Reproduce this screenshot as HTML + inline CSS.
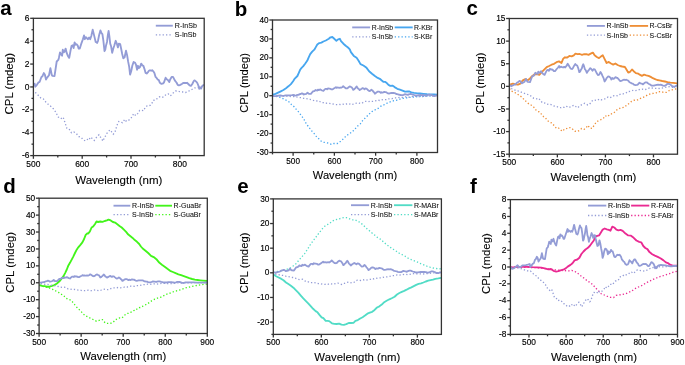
<!DOCTYPE html>
<html><head><meta charset="utf-8"><style>
html,body{margin:0;padding:0;background:#fff;overflow:hidden;}
svg{display:block;will-change:transform;filter:blur(0.3px);}
text{font-family:"Liberation Sans", sans-serif;fill:#000;}
.tk{font-size:8.45px;fill:#000;stroke:#000;stroke-width:0.15px;}
.lb{font-size:11.5px;fill:#000;stroke:#000;stroke-width:0.1px;}
.lt{font-size:20.5px;font-weight:bold;}
.lg{font-size:7.1px;fill:#111;stroke:#111;stroke-width:0.08px;}
.ax{stroke:#333;stroke-width:1.3;}
</style></head><body>
<svg width="685" height="365" viewBox="0 0 685 365">
<g>
<clipPath id="cpa"><rect x="33.40" y="18.30" width="170.80" height="137.30"/></clipPath>
<g clip-path="url(#cpa)">
<polyline points="35.3,92.4 38.6,95.7 41.0,98.2 43.5,99.0 46.0,102.3 48.4,104.4 50.9,106.4 53.4,108.8 55.8,112.1 58.3,117.1 60.8,118.7 63.1,117.1 64.8,122.0 66.8,128.1 68.9,128.6 71.4,132.7 73.8,131.9 76.3,133.5 78.9,136.6 81.3,137.5 83.2,139.9 85.6,140.9 87.5,139.4 88.9,140.1 90.4,137.1 92.3,138.5 94.2,140.4 96.6,137.2 99.0,134.7 100.9,137.8 103.0,141.1 103.8,139.0 105.7,135.6 106.7,133.7 108.4,131.5 110.0,129.9 111.6,131.8 113.2,134.2 114.8,132.7 115.8,129.4 116.7,126.3 117.7,123.6 118.8,121.5 120.5,121.9 122.4,122.7 124.8,119.3 125.7,120.8 127.7,121.2 130.1,119.0 132.0,116.9 133.7,113.6 135.7,115.6 137.7,113.6 139.7,110.4 141.6,110.4 143.6,110.8 145.1,107.7 147.1,105.9 149.0,105.9 150.5,105.2 152.3,102.7 153.5,100.3 155.9,99.8 157.2,98.6 159.4,96.8 161.4,97.6 163.8,96.8 166.3,94.2 168.3,93.9 170.2,95.8 172.2,94.3 173.7,92.4 175.7,91.0 177.8,91.0 180.3,91.9 182.7,92.0 185.4,92.5 187.2,92.0 189.3,90.8 191.4,89.8 194.1,88.0 196.8,87.6 199.3,87.3 201.1,87.0 202.6,85.8" fill="none" stroke="#939cd6" stroke-width="1.3" stroke-dasharray="1.3 2.1"/>
<polyline points="34.4,82.9 35.3,86.7 36.9,84.8 38.6,82.3 39.7,81.8 41.3,77.2 42.4,76.3 43.8,73.0 44.9,74.7 46.0,79.6 47.3,77.4 49.0,75.2 50.4,68.1 51.7,74.7 52.3,75.8 54.5,76.1 56.7,61.5 58.3,59.9 58.9,57.9 60.0,52.4 61.1,54.4 62.1,55.7 62.8,49.7 63.6,52.4 64.5,51.8 65.6,48.6 66.7,52.9 67.8,55.7 69.2,57.9 70.5,50.8 71.6,45.8 72.7,45.3 73.6,48.0 74.6,42.5 75.7,44.7 76.5,44.2 77.6,45.3 78.7,48.6 79.8,48.6 81.5,43.1 82.9,39.2 84.0,35.4 84.7,39.2 85.8,37.1 86.9,38.2 88.0,39.2 89.1,37.6 90.2,39.2 91.3,36.0 92.7,29.6 94.1,35.4 95.7,42.0 96.8,42.5 97.1,43.0 98.0,40.8 99.1,35.3 100.4,30.4 101.5,33.2 102.4,34.2 103.4,40.8 104.5,51.2 105.3,49.6 106.1,45.2 107.0,41.9 107.8,35.3 108.6,31.0 109.4,36.4 110.2,43.6 111.1,46.3 112.2,52.9 113.3,48.5 114.4,45.2 115.7,40.8 116.8,43.6 117.9,47.4 118.9,43.6 120.2,44.1 121.1,48.5 122.2,54.0 123.3,58.4 124.6,57.3 126.0,50.7 127.1,55.1 128.1,61.4 129.2,66.9 130.1,74.6 131.2,71.3 132.3,65.8 133.6,62.0 134.9,62.5 136.0,64.7 137.1,69.7 138.0,65.8 139.0,68.0 140.1,66.9 141.2,63.6 142.3,65.3 143.4,65.8 144.5,69.1 145.6,72.9 146.7,73.5 147.8,72.4 148.9,70.8 150.0,70.2 151.1,70.8 152.2,70.2 153.3,71.3 154.4,72.9 155.5,76.8 156.6,77.9 157.7,79.5 158.8,80.1 159.9,82.8 161.5,83.9 163.2,83.4 164.1,82.1 165.6,77.7 166.7,79.2 167.9,80.1 169.2,82.1 170.3,79.2 171.8,76.8 173.0,76.8 174.2,79.2 175.3,81.1 176.5,82.5 177.7,84.9 178.9,85.4 180.3,84.9 181.8,84.0 183.2,83.0 184.4,82.8 185.6,83.0 187.0,82.8 188.3,84.0 189.6,85.4 190.9,85.9 192.3,84.0 193.7,81.1 194.4,80.4 195.0,80.6 196.2,81.6 197.3,83.0 198.5,85.9 199.2,88.8 200.0,87.3 201.1,88.6 202.0,86.4 202.9,85.5 204.0,84.6" fill="none" stroke="#939cd6" stroke-width="1.85" stroke-linejoin="round"/>
</g>
<line x1="33.40" y1="155.60" x2="33.40" y2="158.80" class="ax"/>
<text x="33.40" y="166.60" class="tk" style="font-size:8.450px" text-anchor="middle">500</text>
<line x1="82.20" y1="155.60" x2="82.20" y2="158.80" class="ax"/>
<text x="82.20" y="166.60" class="tk" style="font-size:8.450px" text-anchor="middle">600</text>
<line x1="131.00" y1="155.60" x2="131.00" y2="158.80" class="ax"/>
<text x="131.00" y="166.60" class="tk" style="font-size:8.450px" text-anchor="middle">700</text>
<line x1="179.80" y1="155.60" x2="179.80" y2="158.80" class="ax"/>
<text x="179.80" y="166.60" class="tk" style="font-size:8.450px" text-anchor="middle">800</text>
<line x1="57.80" y1="155.60" x2="57.80" y2="157.50" class="ax"/>
<line x1="106.60" y1="155.60" x2="106.60" y2="157.50" class="ax"/>
<line x1="155.40" y1="155.60" x2="155.40" y2="157.50" class="ax"/>
<line x1="33.40" y1="155.60" x2="30.20" y2="155.60" class="ax"/>
<text x="29.50" y="158.20" class="tk" style="font-size:8.450px" text-anchor="end">-6</text>
<line x1="33.40" y1="132.72" x2="30.20" y2="132.72" class="ax"/>
<text x="29.50" y="135.32" class="tk" style="font-size:8.450px" text-anchor="end">-4</text>
<line x1="33.40" y1="109.83" x2="30.20" y2="109.83" class="ax"/>
<text x="29.50" y="112.43" class="tk" style="font-size:8.450px" text-anchor="end">-2</text>
<line x1="33.40" y1="86.95" x2="30.20" y2="86.95" class="ax"/>
<text x="29.50" y="89.55" class="tk" style="font-size:8.450px" text-anchor="end">0</text>
<line x1="33.40" y1="64.07" x2="30.20" y2="64.07" class="ax"/>
<text x="29.50" y="66.67" class="tk" style="font-size:8.450px" text-anchor="end">2</text>
<line x1="33.40" y1="41.18" x2="30.20" y2="41.18" class="ax"/>
<text x="29.50" y="43.78" class="tk" style="font-size:8.450px" text-anchor="end">4</text>
<line x1="33.40" y1="18.30" x2="30.20" y2="18.30" class="ax"/>
<text x="29.50" y="20.90" class="tk" style="font-size:8.450px" text-anchor="end">6</text>
<line x1="33.40" y1="144.16" x2="31.50" y2="144.16" class="ax"/>
<line x1="33.40" y1="121.28" x2="31.50" y2="121.28" class="ax"/>
<line x1="33.40" y1="98.39" x2="31.50" y2="98.39" class="ax"/>
<line x1="33.40" y1="75.51" x2="31.50" y2="75.51" class="ax"/>
<line x1="33.40" y1="52.62" x2="31.50" y2="52.62" class="ax"/>
<line x1="33.40" y1="29.74" x2="31.50" y2="29.74" class="ax"/>
<rect x="33.40" y="18.30" width="170.80" height="137.30" class="ax" fill="none"/>
<text x="118.80" y="183.50" class="lb" style="font-size:11.500px" text-anchor="middle">Wavelength (nm)</text>
<text transform="translate(12.50,83.80) rotate(-90)" x="0" y="0" class="lb" style="font-size:11.500px" text-anchor="middle">CPL (mdeg)</text>
<text x="0.30" y="15.00" class="lt">a</text>
<line x1="155.80" y1="25.70" x2="172.80" y2="25.70" stroke="#939cd6" stroke-width="1.85"/>
<line x1="155.80" y1="34.90" x2="172.80" y2="34.90" stroke="#939cd6" stroke-width="1.3" stroke-dasharray="1.3 2.1"/>
<text x="174.80" y="27.90" class="lg" style="font-size:7.100px">R-InSb</text>
<text x="174.80" y="37.30" class="lg" style="font-size:7.100px">S-InSb</text>
</g>
<g>
<clipPath id="cpb"><rect x="272.50" y="20.00" width="165.00" height="132.50"/></clipPath>
<g clip-path="url(#cpb)">
<polyline points="272.6,95.6 273.3,95.8 277.4,96.6 281.5,97.9 285.6,99.9 288.9,101.8 291.4,104.5 293.8,106.4 296.3,109.4 298.8,112.2 301.3,115.5 303.7,118.8 306.2,123.7 308.7,127.0 311.1,130.3 313.6,132.8 316.1,136.1 318.5,138.5 321.0,141.0 323.5,142.3 325.8,142.6 328.3,143.0 331.3,144.3 334.0,143.5 337.3,143.5 340.6,141.3 343.1,139.0 346.4,135.7 349.7,133.6 352.1,131.9 354.6,129.5 357.1,126.5 360.4,123.7 362.8,120.4 366.1,117.1 368.6,114.7 371.1,112.2 373.5,110.6 376.0,109.4 378.5,108.1 380.6,106.4 383.3,105.1 385.9,103.8 388.5,102.4 391.1,101.6 393.8,100.7 396.4,100.3 399.0,99.4 401.6,98.5 405.1,98.1 408.6,97.5 412.2,97.2 415.7,96.8 419.2,96.5 422.7,96.3 426.2,96.1 429.7,95.9 433.2,95.7 437.3,95.4" fill="none" stroke="#47a6ef" stroke-width="1.3" stroke-dasharray="1.3 2.1"/>
<polyline points="272.6,95.2 272.9,94.6 275.5,93.8 278.1,92.6 280.8,91.3 283.4,90.0 286.0,88.2 288.7,86.1 290.9,84.1 293.1,81.2 294.8,78.6 297.4,76.0 298.8,72.9 300.1,69.8 301.8,67.6 303.1,66.4 305.1,63.8 307.2,60.8 308.7,57.3 310.2,54.2 312.2,51.7 314.3,49.7 315.8,47.1 317.3,44.6 319.3,43.1 321.4,42.6 323.4,41.5 325.8,40.5 328.8,38.8 330.5,37.3 332.3,37.0 334.0,38.5 336.4,40.8 338.1,39.4 339.9,38.8 341.0,41.1 343.4,43.7 345.7,45.8 348.0,47.5 349.8,49.3 350.9,52.1 353.8,55.9 356.6,57.8 358.6,60.7 360.5,64.1 363.4,65.5 366.2,67.4 369.1,71.2 372.0,73.7 374.9,76.0 377.7,77.9 379.8,78.8 381.5,80.3 383.3,81.8 385.0,81.8 386.8,83.1 388.5,84.9 390.3,85.8 392.4,85.6 394.6,87.1 397.3,88.8 399.9,89.7 402.5,90.6 405.1,91.7 407.8,91.5 409.5,91.5 411.3,92.3 413.9,92.9 416.5,93.2 420.0,93.5 423.5,93.8 427.0,94.1 430.5,94.3 434.0,94.5 437.3,94.7" fill="none" stroke="#47a6ef" stroke-width="1.85" stroke-linejoin="round"/>
<polyline points="272.6,95.8 276.5,95.8 280.9,95.9 284.3,96.1 288.8,96.4 292.6,96.7 294.7,96.6 297.5,97.2 299.5,97.6 301.6,97.7 303.8,98.3 305.8,98.6 307.9,98.9 310.0,99.3 312.0,99.9 314.1,100.7 316.2,101.0 318.3,100.7 319.7,101.5 321.4,102.5 323.2,102.6 325.3,103.3 327.3,103.2 329.4,103.4 331.6,103.9 333.6,104.1 335.2,104.5 337.3,104.6 338.9,104.4 340.0,104.5 341.3,104.0 342.9,104.2 344.5,104.6 346.5,104.0 348.6,103.6 350.2,104.1 351.9,104.7 352.6,104.3 354.2,103.8 355.1,103.4 356.5,103.1 357.8,102.8 359.2,103.1 360.5,103.5 361.9,103.3 362.7,102.7 363.5,102.2 364.3,101.8 365.4,101.4 366.8,101.5 368.4,101.6 370.4,101.1 371.2,101.3 372.9,101.4 374.9,101.0 376.5,100.7 377.9,100.1 379.6,100.5 381.3,100.1 383.0,99.6 384.6,99.6 386.3,99.7 387.5,99.1 389.2,98.8 390.8,98.8 392.1,98.7 393.6,98.3 394.6,97.9 396.7,97.8 397.8,97.6 399.6,97.3 401.3,97.5 403.3,97.3 405.4,96.9 407.1,96.9 408.7,97.2 410.4,96.9 411.7,96.6 413.5,96.4 415.2,96.4 417.3,96.5 419.4,96.5 421.6,96.6 423.2,96.5 424.9,96.4 426.7,96.2 429.0,95.9 431.3,95.8 433.4,95.8 434.9,95.7 436.1,95.5" fill="none" stroke="#939cd6" stroke-width="1.3" stroke-dasharray="1.3 2.1"/>
<polyline points="272.6,95.8 274.4,96.1 276.7,96.0 278.6,95.6 280.5,95.3 282.3,95.8 284.3,95.6 285.8,95.3 287.8,95.3 289.6,95.3 291.9,95.2 294.0,95.0 294.7,95.7 296.1,95.4 297.5,94.9 298.4,94.9 299.8,94.1 300.7,94.0 301.9,93.4 302.8,93.7 303.8,94.5 304.9,94.1 306.3,93.8 307.5,92.6 308.6,93.7 309.1,93.9 310.9,93.9 312.8,91.5 314.1,91.2 314.6,90.9 315.6,90.0 316.5,90.3 317.4,90.5 318.0,89.6 318.7,90.0 319.5,89.9 320.4,89.4 321.3,90.1 322.2,90.5 323.4,90.9 324.5,89.7 325.4,88.9 326.4,88.8 327.1,89.3 328.0,88.4 328.9,88.7 329.6,88.6 330.5,88.8 331.4,89.4 332.4,89.4 333.8,88.5 335.0,87.8 335.9,87.2 336.5,87.8 337.4,87.5 338.4,87.6 339.3,87.8 340.2,87.5 341.1,87.8 342.1,87.3 343.2,86.2 344.4,87.2 345.8,88.3 346.7,88.4 347.0,88.4 347.7,88.1 348.6,87.2 349.7,86.4 350.7,86.8 351.4,87.0 352.3,88.1 353.2,89.8 353.9,89.5 354.6,88.8 355.3,88.3 356.0,87.2 356.7,86.5 357.3,87.4 358.0,88.5 358.8,89.0 359.7,90.1 360.6,89.4 361.6,88.8 362.7,88.1 363.6,88.5 364.5,89.2 365.4,88.5 366.5,88.6 367.3,89.4 368.2,90.3 369.2,91.0 370.2,90.8 371.4,89.7 372.4,90.4 373.2,91.5 374.1,92.4 374.9,93.7 375.8,93.1 376.7,92.2 377.8,91.6 378.9,91.7 379.9,92.0 380.8,92.9 381.6,92.2 382.4,92.6 383.3,92.4 384.3,91.9 385.2,92.1 386.1,92.2 387.0,92.8 388.0,93.4 388.9,93.5 389.8,93.3 390.8,93.0 391.7,92.9 392.6,93.0 393.5,92.9 394.5,93.1 395.4,93.4 396.3,94.0 397.2,94.2 398.2,94.5 399.1,94.6 400.0,95.0 401.4,95.2 402.8,95.1 403.6,94.9 404.8,94.2 405.8,94.4 406.8,94.6 407.9,94.9 408.8,94.4 410.1,94.0 411.1,94.0 412.1,94.4 413.0,94.7 414.1,95.0 415.1,95.4 416.2,95.5 417.3,95.4 418.6,95.2 419.8,95.1 420.8,95.0 421.8,95.1 423.0,95.0 424.1,95.2 425.2,95.5 426.3,95.5 427.5,95.2 428.6,94.7 429.2,94.6 429.7,94.7 430.7,94.8 431.7,95.1 432.7,95.5 433.3,96.0 434.0,95.8 434.9,96.0 435.6,95.6 436.4,95.5 437.4,95.3" fill="none" stroke="#939cd6" stroke-width="1.8" stroke-linejoin="round"/>
</g>
<line x1="293.12" y1="152.50" x2="293.12" y2="155.70" class="ax"/>
<text x="293.12" y="163.50" class="tk" style="font-size:8.196px" text-anchor="middle">500</text>
<line x1="334.38" y1="152.50" x2="334.38" y2="155.70" class="ax"/>
<text x="334.38" y="163.50" class="tk" style="font-size:8.196px" text-anchor="middle">600</text>
<line x1="375.62" y1="152.50" x2="375.62" y2="155.70" class="ax"/>
<text x="375.62" y="163.50" class="tk" style="font-size:8.196px" text-anchor="middle">700</text>
<line x1="416.88" y1="152.50" x2="416.88" y2="155.70" class="ax"/>
<text x="416.88" y="163.50" class="tk" style="font-size:8.196px" text-anchor="middle">800</text>
<line x1="272.50" y1="152.50" x2="272.50" y2="154.40" class="ax"/>
<line x1="313.75" y1="152.50" x2="313.75" y2="154.40" class="ax"/>
<line x1="355.00" y1="152.50" x2="355.00" y2="154.40" class="ax"/>
<line x1="396.25" y1="152.50" x2="396.25" y2="154.40" class="ax"/>
<line x1="272.50" y1="152.50" x2="269.30" y2="152.50" class="ax"/>
<text x="268.60" y="155.10" class="tk" style="font-size:8.196px" text-anchor="end">-30</text>
<line x1="272.50" y1="133.57" x2="269.30" y2="133.57" class="ax"/>
<text x="268.60" y="136.17" class="tk" style="font-size:8.196px" text-anchor="end">-20</text>
<line x1="272.50" y1="114.64" x2="269.30" y2="114.64" class="ax"/>
<text x="268.60" y="117.24" class="tk" style="font-size:8.196px" text-anchor="end">-10</text>
<line x1="272.50" y1="95.71" x2="269.30" y2="95.71" class="ax"/>
<text x="268.60" y="98.31" class="tk" style="font-size:8.196px" text-anchor="end">0</text>
<line x1="272.50" y1="76.79" x2="269.30" y2="76.79" class="ax"/>
<text x="268.60" y="79.39" class="tk" style="font-size:8.196px" text-anchor="end">10</text>
<line x1="272.50" y1="57.86" x2="269.30" y2="57.86" class="ax"/>
<text x="268.60" y="60.46" class="tk" style="font-size:8.196px" text-anchor="end">20</text>
<line x1="272.50" y1="38.93" x2="269.30" y2="38.93" class="ax"/>
<text x="268.60" y="41.53" class="tk" style="font-size:8.196px" text-anchor="end">30</text>
<line x1="272.50" y1="20.00" x2="269.30" y2="20.00" class="ax"/>
<text x="268.60" y="22.60" class="tk" style="font-size:8.196px" text-anchor="end">40</text>
<line x1="272.50" y1="143.04" x2="270.60" y2="143.04" class="ax"/>
<line x1="272.50" y1="124.11" x2="270.60" y2="124.11" class="ax"/>
<line x1="272.50" y1="105.18" x2="270.60" y2="105.18" class="ax"/>
<line x1="272.50" y1="86.25" x2="270.60" y2="86.25" class="ax"/>
<line x1="272.50" y1="67.32" x2="270.60" y2="67.32" class="ax"/>
<line x1="272.50" y1="48.39" x2="270.60" y2="48.39" class="ax"/>
<line x1="272.50" y1="29.46" x2="270.60" y2="29.46" class="ax"/>
<rect x="272.50" y="20.00" width="165.00" height="132.50" class="ax" fill="none"/>
<text x="355.00" y="179.30" class="lb" style="font-size:11.155px" text-anchor="middle">Wavelength (nm)</text>
<text transform="translate(248.00,82.90) rotate(-90)" x="0" y="0" class="lb" style="font-size:11.155px" text-anchor="middle">CPL (mdeg)</text>
<text x="234.80" y="15.50" class="lt">b</text>
<line x1="352.20" y1="27.40" x2="370.10" y2="27.40" stroke="#939cd6" stroke-width="1.85"/>
<line x1="352.20" y1="36.80" x2="370.10" y2="36.80" stroke="#939cd6" stroke-width="1.3" stroke-dasharray="1.3 2.1"/>
<text x="371.80" y="29.80" class="lg" style="font-size:6.887px">R-InSb</text>
<text x="371.80" y="39.20" class="lg" style="font-size:6.887px">S-InSb</text>
<line x1="394.70" y1="27.40" x2="412.70" y2="27.40" stroke="#47a6ef" stroke-width="1.85"/>
<line x1="394.70" y1="36.80" x2="412.70" y2="36.80" stroke="#47a6ef" stroke-width="1.3" stroke-dasharray="1.3 2.1"/>
<text x="413.90" y="29.80" class="lg" style="font-size:6.887px">R-KBr</text>
<text x="413.90" y="39.20" class="lg" style="font-size:6.887px">S-KBr</text>
</g>
<g>
<clipPath id="cpc"><rect x="509.30" y="18.50" width="168.20" height="135.70"/></clipPath>
<g clip-path="url(#cpc)">
<polyline points="509.5,88.5 511.3,91.0 514.3,92.2 517.0,93.8 519.5,95.5 522.5,97.6 524.4,100.1 526.9,102.1 529.1,104.2 531.0,105.0 533.5,106.7 535.1,109.1 537.3,111.3 539.3,111.9 540.9,113.6 543.4,116.5 545.5,117.9 547.5,120.7 550.0,122.3 552.1,123.1 554.1,125.6 556.5,128.4 558.7,128.1 560.6,130.0 562.6,131.3 564.5,129.0 566.9,128.4 568.8,127.5 571.2,127.8 573.1,129.6 574.9,131.2 577.4,131.5 579.9,130.2 581.7,128.4 584.2,129.2 586.0,127.8 587.9,125.3 589.7,128.0 592.2,128.4 594.1,125.3 595.9,122.6 598.4,120.6 600.8,119.7 603.3,118.5 605.2,115.7 607.6,116.7 610.1,114.2 612.6,113.6 614.4,112.3 616.3,110.2 618.1,109.3 620.6,107.8 624.1,107.4 626.8,105.2 629.4,103.2 631.6,101.4 634.2,100.2 636.8,100.4 639.5,98.8 642.1,97.6 644.7,96.7 647.3,95.1 650.4,93.8 653.0,93.4 655.7,93.2 658.3,91.8 660.9,91.5 664.0,92.5 666.6,92.3 669.2,90.6 671.9,89.9 674.5,89.2 677.3,88.6" fill="none" stroke="#ee8e36" stroke-width="1.3" stroke-dasharray="1.3 2.1"/>
<polyline points="509.5,85.5 510.5,84.4 512.9,83.6 515.4,84.4 517.9,84.7 520.3,83.6 522.8,80.3 525.3,79.1 527.7,80.3 529.4,79.1 531.8,76.5 534.3,74.5 536.8,74.2 539.3,74.9 541.7,72.1 544.2,69.6 546.7,67.1 549.1,66.0 551.6,64.7 554.1,63.8 556.5,62.2 559.0,61.4 561.5,63.0 563.1,58.9 564.7,57.3 567.2,57.5 569.4,55.9 571.6,56.4 573.8,55.3 575.4,53.7 577.6,54.2 579.8,54.0 582.0,54.8 584.2,54.2 586.4,54.2 588.5,54.8 590.7,53.7 592.9,52.6 594.6,55.3 596.8,57.0 599.0,58.1 601.1,56.4 602.8,55.3 604.4,58.6 606.6,63.0 608.8,61.9 611.0,63.5 613.2,64.6 615.4,63.5 617.6,65.0 620.0,66.0 622.2,66.5 624.9,67.0 626.6,69.8 628.2,72.5 629.9,72.0 632.0,69.5 633.7,71.2 635.9,73.1 638.1,73.6 639.7,74.7 641.9,75.8 644.1,74.7 646.3,75.3 648.5,75.8 650.7,76.9 652.9,78.2 655.0,79.1 657.2,80.0 659.4,80.4 662.2,81.0 664.9,81.5 667.6,82.2 670.4,82.6 673.1,82.9 677.3,83.3" fill="none" stroke="#ee8e36" stroke-width="1.85" stroke-linejoin="round"/>
<polyline points="511.2,88.5 514.4,89.8 516.8,90.8 519.2,91.1 521.7,92.4 524.0,93.2 526.5,94.0 529.0,95.0 531.3,96.3 533.8,98.3 536.2,98.9 538.6,98.3 540.3,100.2 542.2,102.6 544.3,102.8 546.8,104.4 549.1,104.1 551.6,104.8 554.1,106.0 556.5,106.3 558.4,107.3 560.7,107.7 562.6,107.1 564.0,107.4 565.4,106.2 567.3,106.7 569.2,107.5 571.5,106.2 573.9,105.2 575.8,106.5 577.8,107.8 578.6,106.9 580.5,105.6 581.5,104.8 583.1,104.0 584.7,103.3 586.3,104.1 587.8,105.0 589.4,104.4 590.4,103.1 591.3,101.9 592.3,100.8 593.4,100.0 595.1,100.2 597.0,100.5 599.3,99.1 600.2,99.7 602.2,99.9 604.6,99.0 606.4,98.2 608.1,96.9 610.1,97.7 612.0,96.9 614.0,95.6 615.9,95.6 617.8,95.8 619.3,94.6 621.3,93.8 623.1,93.8 624.6,93.6 626.4,92.6 627.6,91.6 629.9,91.4 631.2,91.0 633.4,90.2 635.3,90.6 637.7,90.2 640.1,89.2 642.1,89.1 644.0,89.8 645.9,89.3 647.4,88.5 649.5,88.0 651.5,88.0 654.0,88.3 656.4,88.3 659.0,88.5 660.8,88.3 662.9,87.9 664.9,87.5 667.6,86.8 670.2,86.6 672.7,86.5 674.5,86.4 675.9,85.9" fill="none" stroke="#939cd6" stroke-width="1.3" stroke-dasharray="1.3 2.1"/>
<polyline points="510.3,84.7 511.2,86.3 512.7,85.5 514.4,84.5 515.5,84.3 517.1,82.5 518.1,82.1 519.5,80.8 520.6,81.5 521.7,83.4 523.0,82.6 524.6,81.7 526.0,78.9 527.3,81.5 527.9,81.9 530.0,82.1 532.2,76.3 533.8,75.7 534.4,74.9 535.4,72.7 536.5,73.5 537.6,74.0 538.3,71.6 539.1,72.7 540.0,72.5 541.1,71.2 542.1,72.9 543.2,74.0 544.6,74.9 545.9,72.1 547.0,70.1 548.0,69.9 548.9,70.9 549.9,68.8 551.0,69.6 551.8,69.4 552.8,69.9 553.9,71.2 555.0,71.2 556.7,69.0 558.1,67.5 559.1,66.0 559.8,67.5 560.9,66.6 562.0,67.1 563.1,67.5 564.2,66.8 565.2,67.5 566.3,66.2 567.7,63.7 569.1,66.0 570.6,68.6 571.7,68.8 572.0,69.0 572.9,68.1 574.0,65.9 575.3,64.0 576.3,65.1 577.2,65.5 578.2,68.1 579.3,72.2 580.1,71.6 580.9,69.8 581.8,68.5 582.5,65.9 583.3,64.2 584.1,66.4 584.9,69.2 585.8,70.3 586.9,72.9 587.9,71.1 589.0,69.8 590.3,68.1 591.4,69.2 592.5,70.7 593.5,69.2 594.8,69.4 595.7,71.1 596.8,73.3 597.9,75.1 599.2,74.6 600.5,72.0 601.6,73.8 602.6,76.2 603.7,78.4 604.6,81.5 605.6,80.2 606.7,78.0 608.0,76.5 609.3,76.7 610.4,77.6 611.4,79.5 612.3,78.0 613.3,78.9 614.4,78.4 615.5,77.1 616.6,77.8 617.6,78.0 618.7,79.3 619.8,80.8 620.9,81.0 622.0,80.6 623.0,80.0 624.1,79.7 625.2,80.0 626.3,79.7 627.4,80.2 628.4,80.8 629.5,82.3 630.6,82.8 631.7,83.4 632.8,83.6 633.9,84.7 635.4,85.1 637.1,84.9 638.0,84.4 639.5,82.7 640.5,83.3 641.7,83.6 643.0,84.4 644.1,83.3 645.6,82.3 646.7,82.3 647.9,83.3 649.0,84.0 650.3,84.6 651.4,85.5 652.6,85.7 654.0,85.5 655.5,85.2 656.9,84.8 658.0,84.7 659.2,84.8 660.6,84.7 661.9,85.2 663.1,85.7 664.4,85.9 665.8,85.2 667.2,84.0 667.9,83.8 668.5,83.8 669.6,84.2 670.7,84.8 671.9,85.9 672.6,87.1 673.4,86.5 674.5,87.0 675.3,86.1 676.2,85.8 677.3,85.4" fill="none" stroke="#939cd6" stroke-width="1.8" stroke-linejoin="round"/>
</g>
<line x1="509.30" y1="154.20" x2="509.30" y2="157.40" class="ax"/>
<text x="509.30" y="165.20" class="tk" style="font-size:8.340px" text-anchor="middle">500</text>
<line x1="557.36" y1="154.20" x2="557.36" y2="157.40" class="ax"/>
<text x="557.36" y="165.20" class="tk" style="font-size:8.340px" text-anchor="middle">600</text>
<line x1="605.41" y1="154.20" x2="605.41" y2="157.40" class="ax"/>
<text x="605.41" y="165.20" class="tk" style="font-size:8.340px" text-anchor="middle">700</text>
<line x1="653.47" y1="154.20" x2="653.47" y2="157.40" class="ax"/>
<text x="653.47" y="165.20" class="tk" style="font-size:8.340px" text-anchor="middle">800</text>
<line x1="533.33" y1="154.20" x2="533.33" y2="156.10" class="ax"/>
<line x1="581.39" y1="154.20" x2="581.39" y2="156.10" class="ax"/>
<line x1="629.44" y1="154.20" x2="629.44" y2="156.10" class="ax"/>
<line x1="509.30" y1="154.20" x2="506.10" y2="154.20" class="ax"/>
<text x="505.40" y="156.80" class="tk" style="font-size:8.340px" text-anchor="end">-15</text>
<line x1="509.30" y1="131.58" x2="506.10" y2="131.58" class="ax"/>
<text x="505.40" y="134.18" class="tk" style="font-size:8.340px" text-anchor="end">-10</text>
<line x1="509.30" y1="108.97" x2="506.10" y2="108.97" class="ax"/>
<text x="505.40" y="111.57" class="tk" style="font-size:8.340px" text-anchor="end">-5</text>
<line x1="509.30" y1="86.35" x2="506.10" y2="86.35" class="ax"/>
<text x="505.40" y="88.95" class="tk" style="font-size:8.340px" text-anchor="end">0</text>
<line x1="509.30" y1="63.73" x2="506.10" y2="63.73" class="ax"/>
<text x="505.40" y="66.33" class="tk" style="font-size:8.340px" text-anchor="end">5</text>
<line x1="509.30" y1="41.12" x2="506.10" y2="41.12" class="ax"/>
<text x="505.40" y="43.72" class="tk" style="font-size:8.340px" text-anchor="end">10</text>
<line x1="509.30" y1="18.50" x2="506.10" y2="18.50" class="ax"/>
<text x="505.40" y="21.10" class="tk" style="font-size:8.340px" text-anchor="end">15</text>
<line x1="509.30" y1="142.89" x2="507.40" y2="142.89" class="ax"/>
<line x1="509.30" y1="120.27" x2="507.40" y2="120.27" class="ax"/>
<line x1="509.30" y1="97.66" x2="507.40" y2="97.66" class="ax"/>
<line x1="509.30" y1="75.04" x2="507.40" y2="75.04" class="ax"/>
<line x1="509.30" y1="52.42" x2="507.40" y2="52.42" class="ax"/>
<line x1="509.30" y1="29.81" x2="507.40" y2="29.81" class="ax"/>
<rect x="509.30" y="18.50" width="168.20" height="135.70" class="ax" fill="none"/>
<text x="593.40" y="181.30" class="lb" style="font-size:11.351px" text-anchor="middle">Wavelength (nm)</text>
<text transform="translate(483.90,82.90) rotate(-90)" x="0" y="0" class="lb" style="font-size:11.351px" text-anchor="middle">CPL (mdeg)</text>
<text x="466.60" y="15.10" class="lt">c</text>
<line x1="586.90" y1="25.90" x2="604.90" y2="25.90" stroke="#939cd6" stroke-width="1.85"/>
<line x1="586.90" y1="35.20" x2="604.90" y2="35.20" stroke="#939cd6" stroke-width="1.3" stroke-dasharray="1.3 2.1"/>
<text x="606.60" y="28.30" class="lg" style="font-size:7.008px">R-InSb</text>
<text x="606.60" y="37.60" class="lg" style="font-size:7.008px">S-InSb</text>
<line x1="629.70" y1="25.90" x2="648.10" y2="25.90" stroke="#ee8e36" stroke-width="1.85"/>
<line x1="629.70" y1="35.20" x2="648.10" y2="35.20" stroke="#ee8e36" stroke-width="1.3" stroke-dasharray="1.3 2.1"/>
<text x="649.50" y="28.30" class="lg" style="font-size:7.008px">R-CsBr</text>
<text x="649.50" y="37.60" class="lg" style="font-size:7.008px">S-CsBr</text>
</g>
<g>
<clipPath id="cpd"><rect x="39.10" y="198.20" width="168.20" height="135.30"/></clipPath>
<g clip-path="url(#cpd)">
<polyline points="39.4,284.8 40.1,285.5 43.5,286.5 46.9,287.3 50.3,288.3 53.1,289.6 55.8,291.0 58.5,292.4 61.3,294.2 64.0,296.1 66.1,298.3 68.1,299.2 70.9,300.2 72.9,302.4 74.7,304.7 76.6,307.0 78.8,309.2 81.2,311.6 83.2,313.9 85.3,315.7 88.0,317.0 90.7,318.4 92.0,319.0 94.2,320.1 96.4,321.2 98.6,320.7 100.8,319.8 102.4,319.6 104.0,321.8 106.2,323.4 109.0,323.4 111.7,323.1 113.4,322.0 115.5,319.8 117.7,318.5 119.9,317.9 122.1,317.9 124.3,315.4 127.0,313.5 129.2,313.2 131.4,311.9 133.6,310.6 135.8,310.3 138.0,307.7 140.2,307.5 142.4,306.4 144.6,305.3 146.8,304.2 149.5,302.4 151.8,300.7 154.7,299.2 157.6,298.0 160.5,297.3 163.3,295.9 166.2,294.4 169.1,293.5 172.0,292.2 174.8,291.3 177.7,290.6 180.6,289.7 183.5,288.7 186.4,287.7 189.2,287.1 192.1,286.3 195.0,285.8 197.9,285.3 200.7,284.9 203.6,284.4 207.1,284.1" fill="none" stroke="#42f41a" stroke-width="1.3" stroke-dasharray="1.3 2.1"/>
<polyline points="39.6,285.1 42.1,285.9 44.6,286.2 47.0,286.7 49.5,286.7 52.0,285.9 54.4,285.1 56.9,283.5 59.4,281.3 61.8,278.5 63.5,276.1 65.1,273.1 66.8,269.5 68.4,265.4 70.1,262.6 71.7,259.6 73.4,256.3 75.0,253.0 76.7,249.7 78.3,247.3 80.4,244.8 82.4,242.3 84.1,239.0 85.7,234.9 87.3,233.3 88.3,233.5 89.9,231.4 91.6,227.5 93.2,226.4 94.9,224.2 96.5,221.5 98.1,222.0 100.3,221.5 102.5,221.8 104.7,221.0 106.9,220.4 108.5,219.6 110.7,220.4 112.9,222.0 115.1,222.6 117.3,224.2 119.5,225.9 121.7,227.5 123.9,229.7 126.1,231.9 128.3,234.6 130.5,236.3 132.6,237.9 134.8,240.1 137.0,241.8 139.2,244.0 140.9,246.5 142.7,248.5 145.5,250.7 148.2,253.0 151.0,255.8 153.7,257.1 156.4,259.2 159.2,262.6 161.9,264.7 164.7,266.7 167.4,268.8 170.1,270.8 172.9,272.0 175.6,273.2 178.4,274.3 181.1,275.2 183.8,276.1 186.6,277.1 189.3,278.1 192.1,279.0 194.8,279.7 197.5,280.0 200.3,280.3 203.0,280.6 207.1,281.0" fill="none" stroke="#42f41a" stroke-width="1.85" stroke-linejoin="round"/>
<polyline points="40.7,283.6 43.6,284.1 45.6,284.4 47.8,284.5 49.9,285.0 52.0,285.3 54.2,285.6 56.3,286.0 58.4,286.5 60.5,287.2 62.7,287.5 64.7,287.2 66.2,287.9 67.9,288.8 69.7,288.9 71.9,289.5 73.9,289.4 76.1,289.6 78.3,290.1 80.4,290.2 82.0,290.6 84.1,290.7 85.7,290.5 86.9,290.6 88.2,290.2 89.8,290.4 91.5,290.7 93.5,290.2 95.6,289.8 97.2,290.3 99.1,290.8 99.7,290.5 101.4,290.0 102.2,289.7 103.7,289.3 105.1,289.1 106.5,289.4 107.8,289.7 109.2,289.5 110.1,289.0 110.8,288.6 111.7,288.2 112.7,287.9 114.2,287.9 115.8,288.0 117.9,287.5 118.7,287.8 120.4,287.8 122.4,287.5 124.1,287.2 125.5,286.7 127.3,287.0 129.0,286.7 130.7,286.2 132.3,286.2 134.1,286.3 135.4,285.8 137.1,285.6 138.7,285.6 140.0,285.5 141.5,285.1 142.6,284.7 144.6,284.7 145.8,284.5 147.7,284.2 149.4,284.3 151.4,284.2 153.6,283.8 155.3,283.8 156.9,284.1 158.7,283.8 160.0,283.6 161.8,283.4 163.6,283.4 165.7,283.5 167.8,283.5 170.1,283.6 171.7,283.5 173.5,283.3 175.3,283.2 177.6,282.9 179.9,282.9 182.1,282.8 183.6,282.8 184.9,282.6 187.6,282.8 193.8,282.7 200.1,282.6 206.3,282.6 207.3,282.6" fill="none" stroke="#939cd6" stroke-width="1.3" stroke-dasharray="1.3 2.1"/>
<polyline points="40.0,282.2 40.7,282.7 42.1,282.4 43.6,282.1 44.5,282.0 45.9,281.3 46.8,281.2 48.0,280.7 49.0,281.0 49.9,281.7 51.1,281.4 52.5,281.0 53.7,280.0 54.8,281.0 55.4,281.1 57.2,281.2 59.1,279.0 60.5,278.8 61.0,278.5 62.0,277.7 62.9,278.0 63.9,278.1 64.5,277.3 65.2,277.7 65.9,277.6 66.9,277.1 67.8,277.7 68.8,278.1 70.0,278.5 71.1,277.4 72.0,276.7 73.0,276.6 73.8,277.0 74.6,276.2 75.6,276.5 76.3,276.4 77.2,276.6 78.2,277.1 79.1,277.1 80.6,276.3 81.8,275.7 82.7,275.1 83.3,275.7 84.3,275.4 85.2,275.6 86.2,275.7 87.1,275.5 88.0,275.7 89.0,275.2 90.2,274.3 91.4,275.1 92.8,276.1 93.7,276.2 94.0,276.3 94.8,275.9 95.7,275.1 96.8,274.4 97.8,274.8 98.5,275.0 99.4,275.9 100.3,277.5 101.0,277.2 101.7,276.6 102.5,276.1 103.2,275.1 103.9,274.5 104.6,275.3 105.2,276.4 106.0,276.8 107.0,277.7 107.9,277.1 108.9,276.6 110.0,275.9 110.9,276.4 111.9,276.9 112.8,276.4 113.9,276.4 114.7,277.1 115.7,277.9 116.6,278.5 117.7,278.4 118.9,277.4 119.9,278.1 120.7,279.0 121.7,279.8 122.4,280.9 123.4,280.4 124.3,279.6 125.5,279.1 126.6,279.1 127.5,279.5 128.5,280.2 129.2,279.6 130.1,280.0 131.1,279.8 132.0,279.3 132.9,279.6 133.9,279.6 134.8,280.1 135.8,280.7 136.7,280.8 137.7,280.6 138.6,280.4 139.6,280.3 140.5,280.4 141.5,280.3 142.4,280.4 143.4,280.7 144.3,281.3 145.2,281.4 146.2,281.7 147.1,281.7 148.1,282.1 149.5,282.3 150.9,282.2 151.7,282.0 153.0,281.4 153.9,281.6 155.0,281.7 156.1,282.0 157.0,281.6 158.3,281.3 159.4,281.3 160.4,281.6 161.3,281.9 162.4,282.1 163.5,282.5 164.5,282.5 165.7,282.5 167.0,282.3 168.2,282.2 169.2,282.1 170.3,282.2 171.5,282.1 172.6,282.3 173.7,282.5 174.8,282.6 176.0,282.3 177.2,281.9 177.8,281.8 178.4,281.8 179.4,282.0 180.3,282.2 181.4,282.6 182.0,283.0 182.7,282.8 183.6,283.0 184.4,282.7 185.2,282.5 186.1,282.4 188.4,282.3 190.8,282.4 193.8,282.4 197.0,282.6 200.1,282.6 203.1,282.6 206.3,282.5 207.3,282.5" fill="none" stroke="#939cd6" stroke-width="1.8" stroke-linejoin="round"/>
</g>
<line x1="39.10" y1="333.50" x2="39.10" y2="336.70" class="ax"/>
<text x="39.10" y="344.50" class="tk" style="font-size:8.340px" text-anchor="middle">500</text>
<line x1="81.15" y1="333.50" x2="81.15" y2="336.70" class="ax"/>
<text x="81.15" y="344.50" class="tk" style="font-size:8.340px" text-anchor="middle">600</text>
<line x1="123.20" y1="333.50" x2="123.20" y2="336.70" class="ax"/>
<text x="123.20" y="344.50" class="tk" style="font-size:8.340px" text-anchor="middle">700</text>
<line x1="165.25" y1="333.50" x2="165.25" y2="336.70" class="ax"/>
<text x="165.25" y="344.50" class="tk" style="font-size:8.340px" text-anchor="middle">800</text>
<line x1="207.30" y1="333.50" x2="207.30" y2="336.70" class="ax"/>
<text x="207.30" y="344.50" class="tk" style="font-size:8.340px" text-anchor="middle">900</text>
<line x1="60.12" y1="333.50" x2="60.12" y2="335.40" class="ax"/>
<line x1="102.18" y1="333.50" x2="102.18" y2="335.40" class="ax"/>
<line x1="144.23" y1="333.50" x2="144.23" y2="335.40" class="ax"/>
<line x1="186.28" y1="333.50" x2="186.28" y2="335.40" class="ax"/>
<line x1="39.10" y1="333.50" x2="35.90" y2="333.50" class="ax"/>
<text x="35.20" y="336.10" class="tk" style="font-size:8.340px" text-anchor="end">-30</text>
<line x1="39.10" y1="316.59" x2="35.90" y2="316.59" class="ax"/>
<text x="35.20" y="319.19" class="tk" style="font-size:8.340px" text-anchor="end">-20</text>
<line x1="39.10" y1="299.68" x2="35.90" y2="299.68" class="ax"/>
<text x="35.20" y="302.28" class="tk" style="font-size:8.340px" text-anchor="end">-10</text>
<line x1="39.10" y1="282.76" x2="35.90" y2="282.76" class="ax"/>
<text x="35.20" y="285.36" class="tk" style="font-size:8.340px" text-anchor="end">0</text>
<line x1="39.10" y1="265.85" x2="35.90" y2="265.85" class="ax"/>
<text x="35.20" y="268.45" class="tk" style="font-size:8.340px" text-anchor="end">10</text>
<line x1="39.10" y1="248.94" x2="35.90" y2="248.94" class="ax"/>
<text x="35.20" y="251.54" class="tk" style="font-size:8.340px" text-anchor="end">20</text>
<line x1="39.10" y1="232.02" x2="35.90" y2="232.02" class="ax"/>
<text x="35.20" y="234.62" class="tk" style="font-size:8.340px" text-anchor="end">30</text>
<line x1="39.10" y1="215.11" x2="35.90" y2="215.11" class="ax"/>
<text x="35.20" y="217.71" class="tk" style="font-size:8.340px" text-anchor="end">40</text>
<line x1="39.10" y1="198.20" x2="35.90" y2="198.20" class="ax"/>
<text x="35.20" y="200.80" class="tk" style="font-size:8.340px" text-anchor="end">50</text>
<line x1="39.10" y1="325.04" x2="37.20" y2="325.04" class="ax"/>
<line x1="39.10" y1="308.13" x2="37.20" y2="308.13" class="ax"/>
<line x1="39.10" y1="291.22" x2="37.20" y2="291.22" class="ax"/>
<line x1="39.10" y1="274.31" x2="37.20" y2="274.31" class="ax"/>
<line x1="39.10" y1="257.39" x2="37.20" y2="257.39" class="ax"/>
<line x1="39.10" y1="240.48" x2="37.20" y2="240.48" class="ax"/>
<line x1="39.10" y1="223.57" x2="37.20" y2="223.57" class="ax"/>
<line x1="39.10" y1="206.66" x2="37.20" y2="206.66" class="ax"/>
<rect x="39.10" y="198.20" width="168.20" height="135.30" class="ax" fill="none"/>
<text x="123.20" y="360.10" class="lb" style="font-size:11.351px" text-anchor="middle">Wavelength (nm)</text>
<text transform="translate(13.90,262.30) rotate(-90)" x="0" y="0" class="lb" style="font-size:11.351px" text-anchor="middle">CPL (mdeg)</text>
<text x="3.30" y="192.80" class="lt">d</text>
<line x1="113.50" y1="205.70" x2="130.30" y2="205.70" stroke="#939cd6" stroke-width="1.85"/>
<line x1="113.50" y1="214.60" x2="130.30" y2="214.60" stroke="#939cd6" stroke-width="1.3" stroke-dasharray="1.3 2.1"/>
<text x="132.10" y="207.90" class="lg" style="font-size:7.008px">R-InSb</text>
<text x="132.10" y="216.80" class="lg" style="font-size:7.008px">S-InSb</text>
<line x1="155.30" y1="205.70" x2="172.00" y2="205.70" stroke="#42f41a" stroke-width="1.85"/>
<line x1="155.30" y1="214.60" x2="172.00" y2="214.60" stroke="#42f41a" stroke-width="1.3" stroke-dasharray="1.3 2.1"/>
<text x="173.60" y="207.90" class="lg" style="font-size:7.008px">R-GuaBr</text>
<text x="173.60" y="216.80" class="lg" style="font-size:7.008px">S-GuaBr</text>
</g>
<g>
<clipPath id="cpe"><rect x="273.30" y="198.90" width="168.10" height="135.50"/></clipPath>
<g clip-path="url(#cpe)">
<polyline points="273.5,272.6 273.9,272.3 277.8,271.4 281.6,271.0 285.4,269.8 289.3,268.5 293.1,266.0 296.0,263.7 298.9,260.2 301.7,257.0 304.6,253.7 307.5,249.3 310.4,244.5 313.2,240.7 316.1,236.9 319.0,233.0 321.9,229.2 324.7,226.3 327.2,224.8 329.9,223.1 332.7,220.9 335.4,219.8 338.1,219.0 340.9,218.4 343.6,217.6 346.4,217.6 349.1,218.7 351.8,219.8 354.6,219.8 357.3,220.9 360.0,222.5 362.8,224.7 365.0,226.9 367.2,228.9 369.4,230.7 371.5,232.6 374.3,234.8 376.5,236.8 379.2,238.4 381.5,239.9 383.7,242.2 386.2,244.2 388.6,246.1 391.1,247.9 393.6,249.5 396.0,251.0 398.5,252.9 401.0,254.1 403.4,255.3 405.9,256.6 408.4,258.4 411.4,259.7 414.5,260.9 417.6,262.1 420.7,263.6 423.8,264.8 426.9,266.1 429.9,267.1 433.0,268.0 436.1,268.5 441.2,268.9" fill="none" stroke="#52dcc6" stroke-width="1.3" stroke-dasharray="1.3 2.1"/>
<polyline points="273.5,274.5 276.1,276.2 278.6,277.5 281.0,278.7 283.5,280.3 286.0,282.5 288.4,284.1 290.9,285.8 293.4,287.7 295.8,290.2 298.3,292.7 300.8,295.6 303.3,298.4 305.7,300.9 308.2,303.4 310.7,306.2 313.1,308.8 315.6,311.1 317.5,312.3 319.9,315.3 321.6,317.3 323.4,318.2 325.7,320.8 327.5,320.8 329.2,321.1 331.9,323.3 334.3,323.8 336.7,324.0 339.1,323.6 341.5,324.7 343.9,324.9 346.3,324.2 348.7,323.0 351.1,323.0 353.5,322.8 355.4,320.9 357.8,320.1 360.2,318.5 362.6,317.2 365.0,315.6 367.4,313.7 369.8,312.7 372.2,311.8 374.6,309.9 377.0,307.5 379.4,306.3 381.8,304.6 384.2,302.2 386.6,300.8 389.4,299.3 392.2,298.0 394.6,296.7 397.0,294.5 399.4,293.0 401.8,291.9 404.2,290.9 406.6,289.7 409.0,288.4 411.4,287.3 413.8,286.1 416.2,284.9 418.6,283.9 421.0,283.4 423.4,282.5 425.8,281.5 428.2,280.7 430.6,280.1 433.0,279.6 435.4,278.8 438.3,278.4 441.2,277.9" fill="none" stroke="#52dcc6" stroke-width="1.85" stroke-linejoin="round"/>
<polyline points="275.2,274.0 278.4,274.7 280.8,275.2 283.2,275.4 285.7,276.1 288.0,276.6 290.5,277.0 292.9,277.5 295.3,278.2 297.8,279.3 300.2,279.6 302.6,279.3 304.2,280.4 306.2,281.7 308.3,281.8 310.7,282.7 313.1,282.5 315.5,282.8 318.1,283.5 320.5,283.7 322.3,284.2 324.7,284.4 326.5,284.1 327.9,284.3 329.4,283.6 331.3,283.9 333.1,284.3 335.5,283.6 337.8,283.1 339.7,283.8 341.8,284.5 342.6,284.0 344.4,283.3 345.4,282.9 347.1,282.4 348.7,282.1 350.2,282.5 351.8,283.0 353.4,282.7 354.4,282.0 355.2,281.3 356.2,280.7 357.4,280.2 359.1,280.3 360.9,280.5 363.3,279.8 364.2,280.1 366.1,280.2 368.5,279.7 370.4,279.3 372.0,278.5 374.0,279.0 376.0,278.5 377.9,277.9 379.8,277.9 381.8,277.9 383.2,277.3 385.2,276.9 387.1,276.9 388.5,276.7 390.3,276.2 391.5,275.7 393.8,275.6 395.1,275.3 397.3,274.9 399.3,275.1 401.6,274.9 404.1,274.4 406.0,274.3 407.9,274.7 409.9,274.4 411.3,274.0 413.4,273.7 415.5,273.7 417.9,273.9 420.3,273.9 422.9,274.0 424.7,273.9 426.8,273.6 428.8,273.4 431.5,273.0 434.1,272.9 436.6,272.9 438.4,272.8 439.8,272.6" fill="none" stroke="#939cd6" stroke-width="1.3" stroke-dasharray="1.3 2.1"/>
<polyline points="274.3,271.9 275.2,272.8 276.7,272.3 278.4,271.8 279.5,271.7 281.1,270.7 282.1,270.5 283.5,269.8 284.6,270.2 285.7,271.2 287.0,270.8 288.6,270.3 290.0,268.7 291.3,270.2 291.9,270.4 294.0,270.5 296.2,267.3 297.8,267.0 298.4,266.6 299.4,265.4 300.5,265.8 301.6,266.1 302.3,264.8 303.1,265.4 304.0,265.2 305.0,264.6 306.1,265.5 307.2,266.1 308.6,266.6 309.8,265.0 310.9,263.9 312.0,263.8 312.9,264.4 313.9,263.2 315.0,263.7 315.7,263.6 316.8,263.8 317.9,264.6 319.0,264.6 320.7,263.4 322.0,262.5 323.1,261.7 323.8,262.5 324.9,262.1 326.0,262.3 327.0,262.5 328.1,262.2 329.2,262.5 330.3,261.8 331.7,260.5 333.0,261.7 334.6,263.1 335.7,263.2 336.0,263.3 336.9,262.9 337.9,261.7 339.2,260.6 340.3,261.2 341.2,261.4 342.2,262.9 343.3,265.1 344.0,264.8 344.8,263.8 345.7,263.1 346.5,261.7 347.3,260.8 348.1,261.9 348.9,263.5 349.7,264.1 350.8,265.5 351.9,264.5 353.0,263.8 354.3,262.9 355.3,263.5 356.4,264.3 357.5,263.5 358.8,263.6 359.7,264.5 360.7,265.7 361.8,266.7 363.1,266.4 364.5,265.0 365.6,266.0 366.5,267.3 367.6,268.5 368.5,270.1 369.6,269.4 370.7,268.3 371.9,267.4 373.2,267.5 374.3,268.0 375.4,269.1 376.3,268.3 377.2,268.7 378.3,268.5 379.4,267.8 380.5,268.1 381.6,268.3 382.6,269.0 383.7,269.8 384.8,269.9 385.9,269.7 387.0,269.3 388.1,269.2 389.1,269.3 390.2,269.2 391.3,269.4 392.4,269.8 393.5,270.6 394.5,270.9 395.6,271.2 396.7,271.3 397.8,271.9 399.3,272.2 401.0,272.0 401.9,271.8 403.4,270.8 404.5,271.1 405.6,271.3 406.9,271.8 408.0,271.1 409.5,270.6 410.6,270.6 411.8,271.1 412.9,271.5 414.2,271.9 415.4,272.4 416.5,272.5 417.9,272.4 419.4,272.2 420.8,272.0 421.9,271.9 423.1,272.0 424.5,271.9 425.8,272.2 427.1,272.5 428.3,272.6 429.7,272.2 431.1,271.5 431.8,271.4 432.4,271.4 433.5,271.7 434.6,272.0 435.8,272.6 436.5,273.2 437.3,272.9 438.4,273.2 439.2,272.7 440.1,272.5 441.2,272.3" fill="none" stroke="#939cd6" stroke-width="1.8" stroke-linejoin="round"/>
</g>
<line x1="273.30" y1="334.40" x2="273.30" y2="337.60" class="ax"/>
<text x="273.30" y="345.40" class="tk" style="font-size:8.340px" text-anchor="middle">500</text>
<line x1="321.33" y1="334.40" x2="321.33" y2="337.60" class="ax"/>
<text x="321.33" y="345.40" class="tk" style="font-size:8.340px" text-anchor="middle">600</text>
<line x1="369.36" y1="334.40" x2="369.36" y2="337.60" class="ax"/>
<text x="369.36" y="345.40" class="tk" style="font-size:8.340px" text-anchor="middle">700</text>
<line x1="417.39" y1="334.40" x2="417.39" y2="337.60" class="ax"/>
<text x="417.39" y="345.40" class="tk" style="font-size:8.340px" text-anchor="middle">800</text>
<line x1="297.31" y1="334.40" x2="297.31" y2="336.30" class="ax"/>
<line x1="345.34" y1="334.40" x2="345.34" y2="336.30" class="ax"/>
<line x1="393.37" y1="334.40" x2="393.37" y2="336.30" class="ax"/>
<line x1="273.30" y1="322.08" x2="270.10" y2="322.08" class="ax"/>
<text x="269.40" y="324.68" class="tk" style="font-size:8.340px" text-anchor="end">-20</text>
<line x1="273.30" y1="297.45" x2="270.10" y2="297.45" class="ax"/>
<text x="269.40" y="300.05" class="tk" style="font-size:8.340px" text-anchor="end">-10</text>
<line x1="273.30" y1="272.81" x2="270.10" y2="272.81" class="ax"/>
<text x="269.40" y="275.41" class="tk" style="font-size:8.340px" text-anchor="end">0</text>
<line x1="273.30" y1="248.17" x2="270.10" y2="248.17" class="ax"/>
<text x="269.40" y="250.77" class="tk" style="font-size:8.340px" text-anchor="end">10</text>
<line x1="273.30" y1="223.54" x2="270.10" y2="223.54" class="ax"/>
<text x="269.40" y="226.14" class="tk" style="font-size:8.340px" text-anchor="end">20</text>
<line x1="273.30" y1="198.90" x2="270.10" y2="198.90" class="ax"/>
<text x="269.40" y="201.50" class="tk" style="font-size:8.340px" text-anchor="end">30</text>
<line x1="273.30" y1="334.40" x2="271.40" y2="334.40" class="ax"/>
<line x1="273.30" y1="309.76" x2="271.40" y2="309.76" class="ax"/>
<line x1="273.30" y1="285.13" x2="271.40" y2="285.13" class="ax"/>
<line x1="273.30" y1="260.49" x2="271.40" y2="260.49" class="ax"/>
<line x1="273.30" y1="235.85" x2="271.40" y2="235.85" class="ax"/>
<line x1="273.30" y1="211.22" x2="271.40" y2="211.22" class="ax"/>
<rect x="273.30" y="198.90" width="168.10" height="135.50" class="ax" fill="none"/>
<text x="357.35" y="361.00" class="lb" style="font-size:11.351px" text-anchor="middle">Wavelength (nm)</text>
<text transform="translate(248.30,262.80) rotate(-90)" x="0" y="0" class="lb" style="font-size:11.351px" text-anchor="middle">CPL (mdeg)</text>
<text x="237.20" y="193.00" class="lt">e</text>
<line x1="351.00" y1="205.20" x2="369.10" y2="205.20" stroke="#939cd6" stroke-width="1.85"/>
<line x1="351.00" y1="214.60" x2="369.10" y2="214.60" stroke="#939cd6" stroke-width="1.3" stroke-dasharray="1.3 2.1"/>
<text x="370.70" y="207.60" class="lg" style="font-size:7.008px">R-InSb</text>
<text x="370.70" y="217.00" class="lg" style="font-size:7.008px">S-InSb</text>
<line x1="394.00" y1="205.20" x2="412.40" y2="205.20" stroke="#52dcc6" stroke-width="1.85"/>
<line x1="394.00" y1="214.60" x2="412.40" y2="214.60" stroke="#52dcc6" stroke-width="1.3" stroke-dasharray="1.3 2.1"/>
<text x="413.90" y="207.60" class="lg" style="font-size:7.008px">R-MABr</text>
<text x="413.90" y="217.00" class="lg" style="font-size:7.008px">S-MABr</text>
</g>
<g>
<clipPath id="cpf"><rect x="510.40" y="199.60" width="167.10" height="134.80"/></clipPath>
<g clip-path="url(#cpf)">
<polyline points="510.6,267.1 516.0,267.0 522.0,267.2 528.0,267.4 534.0,267.6 540.0,268.0 545.0,268.6 550.0,269.2 555.0,269.8 560.0,270.3 565.0,270.7 569.0,270.8 571.8,270.5 574.5,271.3 576.7,272.4 578.9,274.3 581.1,276.0 583.3,277.6 585.5,279.3 587.6,281.2 589.8,282.3 592.6,284.5 594.8,287.0 597.0,289.4 599.1,291.4 601.2,293.8 604.3,295.0 607.4,296.3 610.5,297.3 613.6,297.5 616.1,295.4 619.2,295.0 622.3,294.5 625.4,293.8 628.5,292.5 631.6,291.1 634.7,288.8 637.8,287.3 640.9,286.1 644.0,284.2 647.1,282.4 650.2,280.9 653.3,279.3 656.4,278.0 659.5,276.8 662.6,275.9 665.7,274.9 669.4,273.7 673.2,272.2 677.3,271.2" fill="none" stroke="#ea2a92" stroke-width="1.3" stroke-dasharray="1.3 2.1"/>
<polyline points="510.6,267.3 515.0,267.1 519.4,266.8 523.8,266.8 528.1,266.8 532.5,267.1 536.9,267.3 541.3,267.7 544.8,268.3 548.3,269.4 550.9,269.0 553.5,270.8 556.2,271.6 558.4,271.2 560.5,270.3 563.2,269.7 565.7,268.4 567.7,266.6 570.5,264.9 572.5,263.2 574.6,260.4 577.3,259.5 579.4,257.7 581.4,254.0 583.5,251.5 585.5,249.5 587.6,248.1 589.7,246.0 591.7,243.3 593.8,240.5 595.4,236.7 597.2,235.8 599.2,235.3 600.9,232.6 602.7,229.6 604.7,228.5 606.8,229.3 608.8,229.9 610.5,230.7 612.3,226.6 614.3,227.5 616.4,229.6 618.4,230.3 620.5,229.9 622.7,230.9 625.5,233.6 628.2,235.4 631.0,235.7 633.7,237.8 636.4,240.5 639.2,241.9 641.2,242.3 643.3,246.0 645.3,248.0 647.4,249.1 649.5,252.1 652.2,254.2 654.9,255.6 657.7,256.9 660.4,258.3 663.2,260.1 665.9,262.4 667.9,263.1 670.0,264.7 672.7,265.6 675.5,265.6 677.3,265.6" fill="none" stroke="#ea2a92" stroke-width="1.85" stroke-linejoin="round"/>
<polyline points="510.5,267.2 514.0,267.6 518.0,268.0 521.0,268.6 525.1,270.1 528.5,271.2 530.4,271.0 532.9,273.4 534.7,275.3 536.6,275.9 538.5,278.3 540.4,279.9 542.3,281.3 544.2,283.1 546.0,285.5 547.9,289.2 549.8,290.4 551.6,289.2 552.9,292.8 554.4,297.3 556.0,297.7 557.9,300.7 559.7,300.1 561.6,301.3 563.6,303.6 565.4,304.2 566.9,306.0 568.7,306.7 570.1,305.6 571.2,306.1 572.3,303.9 573.8,305.0 575.2,306.4 577.0,304.0 578.9,302.2 580.3,304.4 581.9,306.9 582.5,305.3 584.0,302.8 584.7,301.4 586.0,299.8 587.2,298.6 588.4,300.0 589.7,301.8 590.9,300.7 591.6,298.3 592.3,296.0 593.1,294.0 594.0,292.4 595.3,292.7 596.7,293.3 598.5,290.8 599.2,291.9 600.7,292.2 602.6,290.6 604.0,289.1 605.3,286.6 606.8,288.1 608.3,286.6 609.9,284.3 611.3,284.3 612.8,284.6 614.0,282.3 615.5,281.0 616.9,281.0 618.1,280.4 619.4,278.6 620.3,276.8 622.2,276.5 623.2,275.6 624.8,274.3 626.3,274.8 628.2,274.3 630.1,272.3 631.6,272.1 633.0,273.5 634.5,272.4 635.7,271.0 637.3,270.0 638.9,270.0 640.8,270.6 642.6,270.7 644.7,271.1 646.0,270.7 647.6,269.8 649.2,269.1 651.3,267.8 653.3,267.5 655.2,267.3 656.6,267.0 657.7,266.2 660.1,267.0 665.6,266.7 671.1,266.3 676.6,266.0 677.5,266.0" fill="none" stroke="#939cd6" stroke-width="1.3" stroke-dasharray="1.3 2.1"/>
<polyline points="510.5,267.4 512.1,268.8 514.2,268.1 515.9,266.7 517.6,265.3 519.2,267.4 521.0,266.7 522.4,265.3 524.2,265.3 525.8,265.1 527.9,264.7 529.7,264.0 530.4,266.8 531.6,265.4 532.9,263.6 533.8,263.2 535.0,259.8 535.8,259.2 536.9,256.7 537.7,258.0 538.5,261.6 539.5,260.0 540.8,258.3 541.9,253.1 542.9,258.0 543.3,258.8 545.0,259.0 546.7,248.3 547.9,247.1 548.3,245.6 549.2,241.6 550.0,243.0 550.8,244.0 551.4,239.6 552.0,241.6 552.7,241.1 553.5,238.8 554.3,241.9 555.2,244.0 556.2,245.6 557.2,240.4 558.1,236.7 558.9,236.3 559.6,238.3 560.3,234.3 561.2,235.9 561.8,235.5 562.6,236.3 563.5,238.8 564.3,238.8 565.6,234.7 566.6,231.8 567.5,229.0 568.0,231.8 568.8,230.3 569.7,231.1 570.5,231.8 571.4,230.7 572.2,231.8 573.0,229.5 574.1,224.8 575.1,229.0 576.4,233.9 577.2,234.3 577.4,234.6 578.1,233.0 578.9,229.0 579.9,225.4 580.8,227.4 581.5,228.2 582.2,233.0 583.0,240.7 583.7,239.5 584.3,236.3 584.9,233.8 585.6,229.0 586.2,225.8 586.8,229.8 587.4,235.1 588.1,237.1 588.9,241.9 589.7,238.7 590.6,236.3 591.6,233.0 592.4,235.1 593.2,237.9 594.1,235.1 595.1,235.4 595.7,238.7 596.6,242.7 597.4,246.0 598.4,245.2 599.5,240.3 600.3,243.5 601.1,248.2 601.9,252.2 602.6,257.9 603.4,255.5 604.2,251.4 605.2,248.6 606.2,249.0 607.1,250.6 607.9,254.3 608.6,251.4 609.3,253.0 610.2,252.2 611.0,249.8 611.8,251.1 612.7,251.4 613.5,253.9 614.3,256.7 615.2,257.1 616.0,256.3 616.9,255.1 617.7,254.7 618.5,255.1 619.4,254.7 620.2,255.5 621.0,256.7 621.9,259.5 622.7,260.3 623.5,261.5 624.4,262.0 625.2,263.9 626.4,264.8 627.7,264.4 628.4,263.4 629.5,260.2 630.4,261.3 631.3,262.0 632.3,263.4 633.1,261.3 634.2,259.5 635.2,259.5 636.1,261.3 636.9,262.7 637.9,263.7 638.8,265.5 639.7,265.9 640.8,265.5 641.9,264.8 643.0,264.1 643.9,263.9 644.8,264.1 645.9,263.9 646.9,264.8 647.8,265.9 648.8,266.2 649.9,264.8 651.0,262.7 651.5,262.2 651.9,262.3 652.9,263.1 653.7,264.1 654.6,266.2 655.1,268.4 655.7,267.3 656.6,268.2 657.3,266.6 657.9,265.9 658.8,265.3 660.8,264.9 662.9,265.1 665.6,265.3 668.4,266.0 671.1,266.3 673.8,266.0 676.6,265.8 677.5,265.8" fill="none" stroke="#939cd6" stroke-width="1.8" stroke-linejoin="round"/>
</g>
<line x1="528.97" y1="334.40" x2="528.97" y2="337.60" class="ax"/>
<text x="528.97" y="345.40" class="tk" style="font-size:8.340px" text-anchor="middle">500</text>
<line x1="566.10" y1="334.40" x2="566.10" y2="337.60" class="ax"/>
<text x="566.10" y="345.40" class="tk" style="font-size:8.340px" text-anchor="middle">600</text>
<line x1="603.23" y1="334.40" x2="603.23" y2="337.60" class="ax"/>
<text x="603.23" y="345.40" class="tk" style="font-size:8.340px" text-anchor="middle">700</text>
<line x1="640.37" y1="334.40" x2="640.37" y2="337.60" class="ax"/>
<text x="640.37" y="345.40" class="tk" style="font-size:8.340px" text-anchor="middle">800</text>
<line x1="677.50" y1="334.40" x2="677.50" y2="337.60" class="ax"/>
<text x="677.50" y="345.40" class="tk" style="font-size:8.340px" text-anchor="middle">900</text>
<line x1="510.40" y1="334.40" x2="510.40" y2="336.30" class="ax"/>
<line x1="547.53" y1="334.40" x2="547.53" y2="336.30" class="ax"/>
<line x1="584.67" y1="334.40" x2="584.67" y2="336.30" class="ax"/>
<line x1="621.80" y1="334.40" x2="621.80" y2="336.30" class="ax"/>
<line x1="658.93" y1="334.40" x2="658.93" y2="336.30" class="ax"/>
<line x1="510.40" y1="334.40" x2="507.20" y2="334.40" class="ax"/>
<text x="506.50" y="337.00" class="tk" style="font-size:8.340px" text-anchor="end">-8</text>
<line x1="510.40" y1="317.55" x2="507.20" y2="317.55" class="ax"/>
<text x="506.50" y="320.15" class="tk" style="font-size:8.340px" text-anchor="end">-6</text>
<line x1="510.40" y1="300.70" x2="507.20" y2="300.70" class="ax"/>
<text x="506.50" y="303.30" class="tk" style="font-size:8.340px" text-anchor="end">-4</text>
<line x1="510.40" y1="283.85" x2="507.20" y2="283.85" class="ax"/>
<text x="506.50" y="286.45" class="tk" style="font-size:8.340px" text-anchor="end">-2</text>
<line x1="510.40" y1="267.00" x2="507.20" y2="267.00" class="ax"/>
<text x="506.50" y="269.60" class="tk" style="font-size:8.340px" text-anchor="end">0</text>
<line x1="510.40" y1="250.15" x2="507.20" y2="250.15" class="ax"/>
<text x="506.50" y="252.75" class="tk" style="font-size:8.340px" text-anchor="end">2</text>
<line x1="510.40" y1="233.30" x2="507.20" y2="233.30" class="ax"/>
<text x="506.50" y="235.90" class="tk" style="font-size:8.340px" text-anchor="end">4</text>
<line x1="510.40" y1="216.45" x2="507.20" y2="216.45" class="ax"/>
<text x="506.50" y="219.05" class="tk" style="font-size:8.340px" text-anchor="end">6</text>
<line x1="510.40" y1="199.60" x2="507.20" y2="199.60" class="ax"/>
<text x="506.50" y="202.20" class="tk" style="font-size:8.340px" text-anchor="end">8</text>
<line x1="510.40" y1="325.97" x2="508.50" y2="325.97" class="ax"/>
<line x1="510.40" y1="309.12" x2="508.50" y2="309.12" class="ax"/>
<line x1="510.40" y1="292.27" x2="508.50" y2="292.27" class="ax"/>
<line x1="510.40" y1="275.42" x2="508.50" y2="275.42" class="ax"/>
<line x1="510.40" y1="258.57" x2="508.50" y2="258.57" class="ax"/>
<line x1="510.40" y1="241.72" x2="508.50" y2="241.72" class="ax"/>
<line x1="510.40" y1="224.88" x2="508.50" y2="224.88" class="ax"/>
<line x1="510.40" y1="208.02" x2="508.50" y2="208.02" class="ax"/>
<rect x="510.40" y="199.60" width="167.10" height="134.80" class="ax" fill="none"/>
<text x="593.95" y="361.30" class="lb" style="font-size:11.351px" text-anchor="middle">Wavelength (nm)</text>
<text transform="translate(489.70,263.60) rotate(-90)" x="0" y="0" class="lb" style="font-size:11.351px" text-anchor="middle">CPL (mdeg)</text>
<text x="469.90" y="192.60" class="lt">f</text>
<line x1="588.00" y1="205.60" x2="606.30" y2="205.60" stroke="#939cd6" stroke-width="1.85"/>
<line x1="588.00" y1="215.50" x2="606.30" y2="215.50" stroke="#939cd6" stroke-width="1.3" stroke-dasharray="1.3 2.1"/>
<text x="608.00" y="208.00" class="lg" style="font-size:7.008px">R-InSb</text>
<text x="608.00" y="217.90" class="lg" style="font-size:7.008px">S-InSb</text>
<line x1="631.10" y1="205.60" x2="649.30" y2="205.60" stroke="#ea2a92" stroke-width="1.85"/>
<line x1="631.10" y1="215.50" x2="649.30" y2="215.50" stroke="#ea2a92" stroke-width="1.3" stroke-dasharray="1.3 2.1"/>
<text x="651.10" y="208.00" class="lg" style="font-size:7.008px">R-FABr</text>
<text x="651.10" y="217.90" class="lg" style="font-size:7.008px">S-FABr</text>
</g>
</svg>
</body></html>
